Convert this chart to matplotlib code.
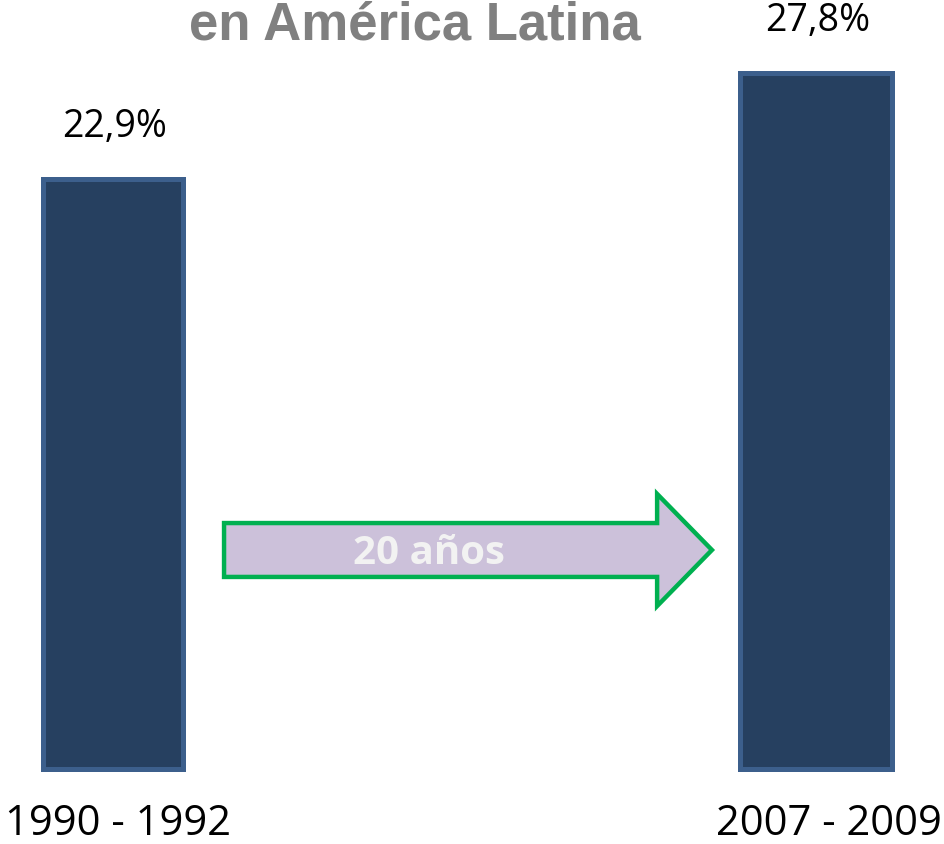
import matplotlib
matplotlib.use("Agg")
import matplotlib.pyplot as plt
from matplotlib.patches import FancyArrow

# data
periods = ["1990 - 1992", "2007 - 2009"]
shares = [22.9, 27.8]
value_labels = ["22,9%", "27,8%"]
title_text = "en América Latina"
arrow_text = "20 años"

W, H = 945, 844
fig = plt.figure(figsize=(W / 100, H / 100), dpi=100)
ax = fig.add_axes([0, 0, 1, 1])
ax.set_axis_off()

narrow = ["Liberation Sans Narrow", "Open Sans", "DejaVu Sans"]

# bars sit on a raised baseline, as in the original slide
base = -4.23
xpos = [0, 1]
widths = [0.198, 0.215]
heights = [s - base for s in shares]
ax.bar(xpos, heights, bottom=base, width=widths, color="#264060",
       edgecolor="#3C5F8C", linewidth=3.6, zorder=2)

ax.set_xlim(-0.1607, 1.1835)
ax.set_ylim(-7.68, 31.16)

for x, s, lab in zip(xpos, shares, value_labels):
    ax.annotate(lab, (x, s), xytext=(1, 37.5), textcoords="offset points",
                ha="center", va="center", fontsize=27, family=narrow,
                color="black")

label_shift = [0, 6]  # points, nudges the period labels sideways
for x, p, dx in zip(xpos, periods, label_shift):
    ax.annotate(p, (x, base), xytext=(dx + 3.5, -39.5),
                textcoords="offset points", ha="center", va="center",
                fontsize=30, family=narrow, color="black")

# arrow between the bars
ax.add_patch(FancyArrow(0.158, 5.85, 0.852 - 0.158, 0, width=2.48,
                        head_width=5.16, head_length=0.852 - 0.774,
                        length_includes_head=True, facecolor="#CCC1DA",
                        edgecolor="#00B050", linewidth=3.2, zorder=3))
ax.text(0.449, 5.67, arrow_text, ha="center", va="center", fontsize=29,
        fontweight="bold", family=["Open Sans", "DejaVu Sans"],
        color="#F2F2F2", zorder=4)

fig.text(415 / W, 1 - 26 / H, title_text, ha="center", va="center",
         fontsize=38, fontweight="bold",
         family=["Liberation Sans", "DejaVu Sans"], color="#808080")

fig.savefig("out.png", dpi=100)
